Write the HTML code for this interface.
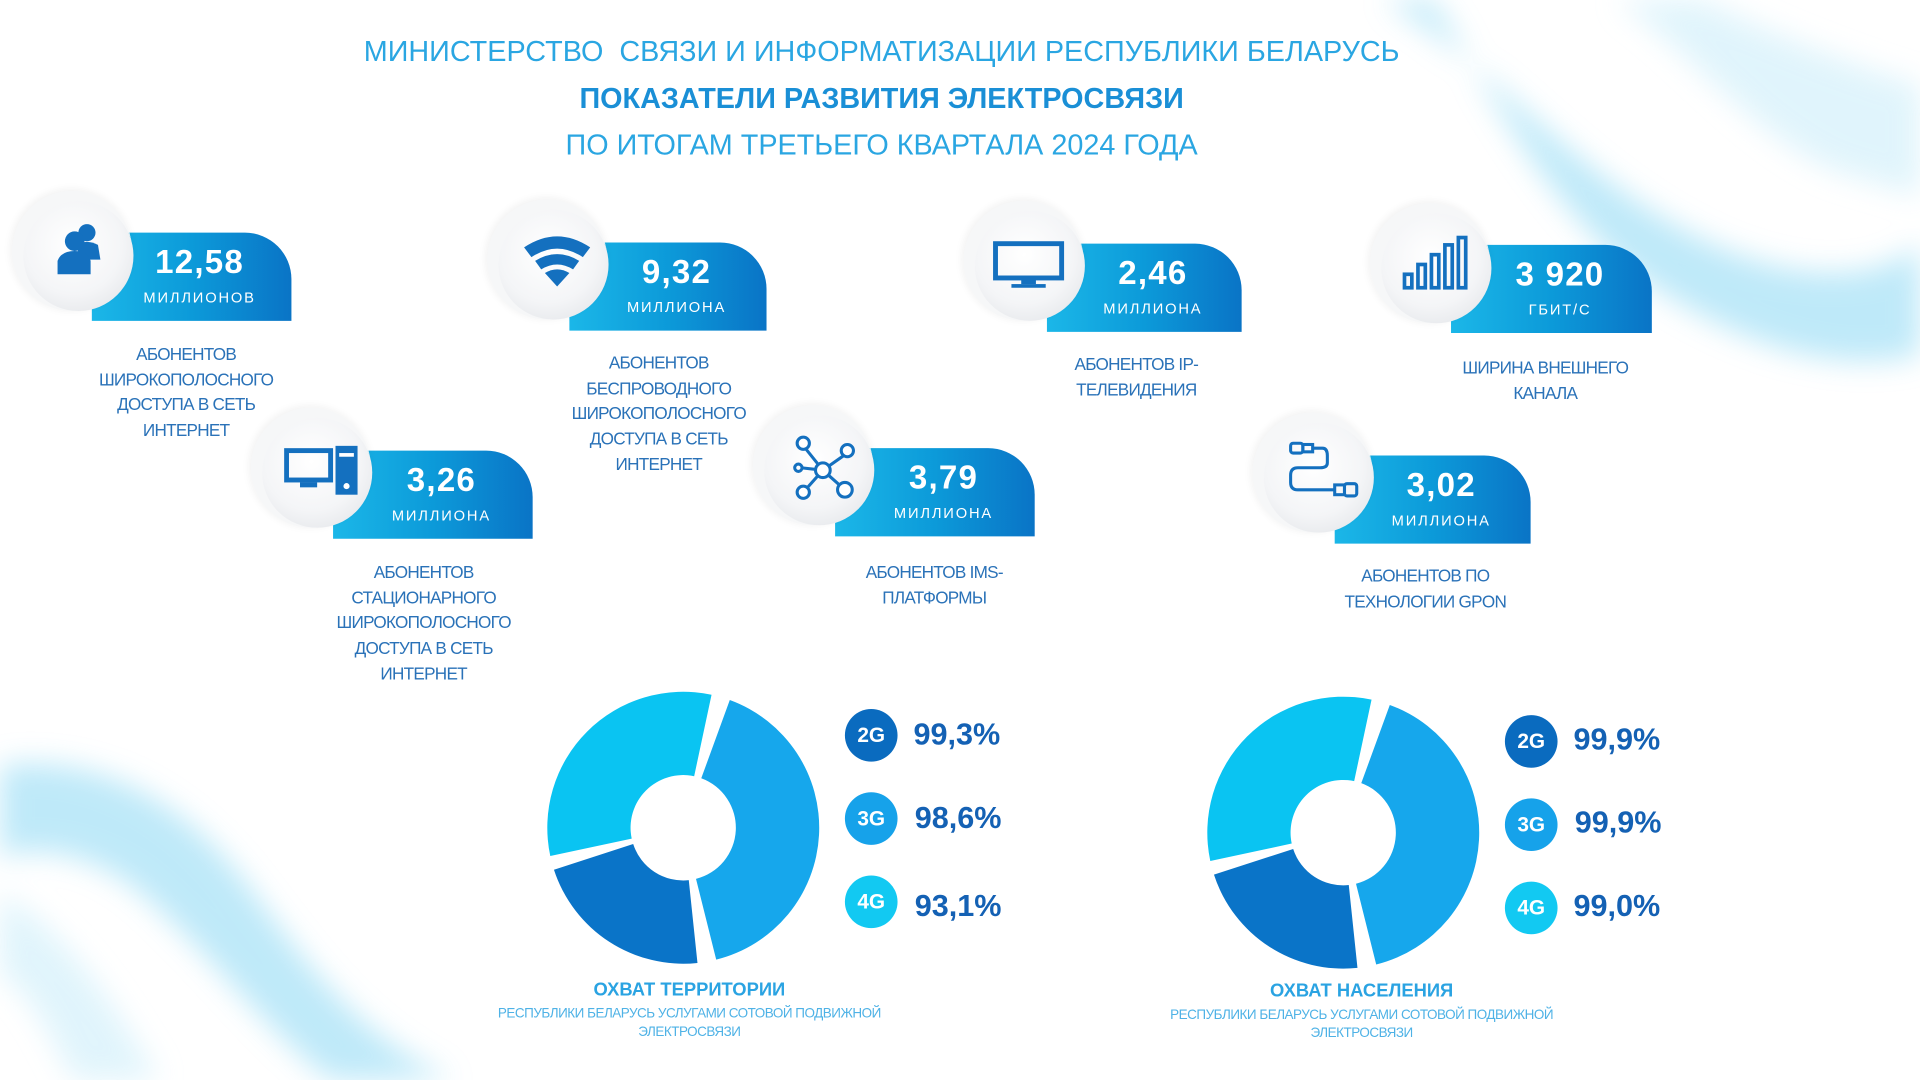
<!DOCTYPE html>
<html><head><meta charset="utf-8">
<style>
html,body{margin:0;padding:0;background:#fff;overflow:hidden;width:1920px;height:1080px}
#st{position:absolute;left:0;top:0;width:1568px;height:882px;transform:scale(1.22449);transform-origin:0 0;font-family:"Liberation Sans","DejaVu Sans",sans-serif}
.t{position:absolute;left:0;width:1440px;text-align:center;white-space:nowrap}
.circ{position:absolute;width:90px;height:90px;border-radius:50%;background:radial-gradient(circle at 45% 40%,#fff 0%,#f4f5f7 55%,#dde0e4 100%);box-shadow:-5px -4px 0 4px #f6f7f8, -6px -5px 6px 5px rgba(0,0,0,0.05);z-index:2}
.pill{position:absolute;height:72px;border-radius:0 38px 0 0;background:linear-gradient(90deg,#1bb7e8 0%,#0c9ad9 50%,#0a74c6 100%);z-index:1;color:#fff;text-align:center}
.pill .n{position:absolute;left:0;right:0;top:9px;font-size:27px;font-weight:bold;letter-spacing:1px}
.pill .u{position:absolute;left:0;right:0;top:46px;font-size:12px;letter-spacing:1.5px}
.lab{position:absolute;text-align:center;color:#2a72b8;font-size:14px;line-height:20.7px;width:200px;letter-spacing:-0.6px}
.icon{position:absolute;z-index:3}
.bd{position:absolute;width:43px;height:43px;border-radius:50%;color:#fff;font-weight:bold;font-size:17px;text-align:center;line-height:43px}
.pc{position:absolute;color:#1461b4;font-weight:bold;font-size:25px}
.cap{position:absolute;width:400px;text-align:center}
</style></head><body>
<div id="st">
<svg width="1568" height="882" style="position:absolute;left:0;top:0">
<defs><filter id="bl"><feGaussianBlur stdDeviation="12"/></filter></defs>
<g filter="url(#bl)" opacity="0.75">
<path d="M1130,0 C1230,60 1290,150 1400,200 C1480,235 1540,225 1568,200 L1568,290 C1500,305 1420,285 1330,220 C1250,150 1210,60 1170,0 Z" fill="#a9e2f7"/>
<path d="M1320,0 C1380,40 1430,110 1500,140 L1568,160 L1568,70 C1500,50 1430,20 1390,0 Z" fill="#d6f1fb"/>
<path d="M0,625 C80,615 150,655 200,720 C250,785 290,845 370,882 L270,882 C210,835 170,775 110,725 C70,695 25,690 0,700 Z" fill="#a9e2f7"/>
<path d="M0,730 C40,750 80,800 110,850 L130,882 L60,882 C40,840 20,805 0,795 Z" fill="#d6f1fb"/>
</g>
</svg>

<div class="t" style="top:29px;font-size:23.5px;color:#2aa6e2">МИНИСТЕРСТВО&nbsp; СВЯЗИ И ИНФОРМАТИЗАЦИИ РЕСПУБЛИКИ БЕЛАРУСЬ</div>
<div class="t" style="top:67px;font-size:23.5px;color:#1a8fd6;font-weight:bold">ПОКАЗАТЕЛИ РАЗВИТИЯ ЭЛЕКТРОСВЯЗИ</div>
<div class="t" style="top:105px;font-size:23.5px;color:#2aa6e2">ПО ИТОГАМ ТРЕТЬЕГО КВАРТАЛА 2024 ГОДА</div>

<div class="pill" style="left:75px;top:190px;width:163px"><div class="n" style="left:13px">12,58</div><div class="u" style="left:13px">МИЛЛИОНОВ</div></div>
<div class="circ" style="left:19px;top:164px"></div>
<svg class="icon" style="left:42px;top:180px" width="48" height="48"><circle cx="29" cy="10" r="7" fill="#1470bf"/><path d="M20,20 Q29,15 38,20 L40,32 L24,32Z" fill="#1470bf"/><circle cx="19" cy="17" r="8" fill="#1470bf"/><path d="M5,44 L5,33 Q8,25 19,25 Q30,25 32,33 L32,44Z" fill="#1470bf"/></svg>
<div class="lab" style="left:52px;top:279px">АБОНЕНТОВ<br>ШИРОКОПОЛОСНОГО<br>ДОСТУПА В СЕТЬ<br>ИНТЕРНЕТ</div>

<div class="pill" style="left:465px;top:198px;width:161px"><div class="n" style="left:14px">9,32</div><div class="u" style="left:14px">МИЛЛИОНА</div></div>
<div class="circ" style="left:407px;top:171px"></div>
<svg class="icon" style="left:425px;top:192px" width="60" height="45"><path d="M3,10 Q30,-8 57,10 L51,18 Q30,4 9,18Z" fill="#1470bf"/><path d="M12,21 Q30,10 48,21 L43,28 Q30,20 17,28Z" fill="#1470bf"/><path d="M20,31 Q30,25 40,31 L30,42Z" fill="#1470bf"/></svg>
<div class="lab" style="left:438px;top:286px">АБОНЕНТОВ<br>БЕСПРОВОДНОГО<br>ШИРОКОПОЛОСНОГО<br>ДОСТУПА В СЕТЬ<br>ИНТЕРНЕТ</div>

<div class="pill" style="left:855px;top:199px;width:159px"><div class="n" style="left:14px">2,46</div><div class="u" style="left:14px">МИЛЛИОНА</div></div>
<div class="circ" style="left:796px;top:172px"></div>
<svg class="icon" style="left:810px;top:196px" width="60" height="42"><rect x="3" y="3" width="54" height="28" fill="none" stroke="#1470bf" stroke-width="4"/><rect x="24" y="32" width="12" height="4" fill="#1470bf"/><rect x="16" y="36" width="28" height="3" fill="#1470bf"/></svg>
<div class="lab" style="left:828px;top:287px">АБОНЕНТОВ IP-<br>ТЕЛЕВИДЕНИЯ</div>

<div class="pill" style="left:1185px;top:200px;width:164px"><div class="n" style="left:14px">3 920</div><div class="u" style="left:14px">ГБИТ/С</div></div>
<div class="circ" style="left:1128px;top:174px"></div>
<svg class="icon" style="left:1145px;top:192px" width="58" height="46"><g fill="none" stroke="#1470bf" stroke-width="3"><rect x="2" y="32" width="6" height="11"/><rect x="13" y="24" width="6" height="19"/><rect x="24" y="16" width="6" height="27"/><rect x="35" y="8" width="6" height="35"/><rect x="46" y="2" width="6" height="41"/></g></svg>
<div class="lab" style="left:1162px;top:290px">ШИРИНА ВНЕШНЕГО<br>КАНАЛА</div>

<div class="pill" style="left:272px;top:368px;width:163px"><div class="n" style="left:14px">3,26</div><div class="u" style="left:14px">МИЛЛИОНА</div></div>
<div class="circ" style="left:214px;top:341px"></div>
<svg class="icon" style="left:232px;top:364px" width="62" height="42"><rect x="2" y="4" width="36" height="24" fill="none" stroke="#1470bf" stroke-width="4"/><rect x="13" y="30" width="14" height="4" fill="#1470bf"/><rect x="42" y="0" width="18" height="40" fill="#1470bf"/><rect x="45" y="6" width="12" height="3" fill="#fff"/><circle cx="51" cy="33" r="2.5" fill="#fff"/></svg>
<div class="lab" style="left:246px;top:457px">АБОНЕНТОВ<br>СТАЦИОНАРНОГО<br>ШИРОКОПОЛОСНОГО<br>ДОСТУПА В СЕТЬ<br>ИНТЕРНЕТ</div>

<div class="pill" style="left:682px;top:366px;width:163px"><div class="n" style="left:14px">3,79</div><div class="u" style="left:14px">МИЛЛИОНА</div></div>
<div class="circ" style="left:624px;top:339px"></div>
<svg class="icon" style="left:646px;top:354px" width="56" height="58"><g fill="none" stroke="#1470bf" stroke-width="2.5"><line x1="10" y1="10" x2="26" y2="30"/><line x1="26" y1="30" x2="46" y2="16"/><line x1="26" y1="30" x2="10" y2="48"/><line x1="26" y1="30" x2="44" y2="46"/><line x1="26" y1="30" x2="8" y2="28"/><circle cx="10" cy="8" r="5" fill="#fff"/><circle cx="46" cy="14" r="5" fill="#fff"/><circle cx="26" cy="30" r="6" fill="#fff"/><circle cx="10" cy="48" r="5" fill="#fff"/><circle cx="44" cy="46" r="6" fill="#fff"/><circle cx="6" cy="28" r="3" fill="#fff"/></g></svg>
<div class="lab" style="left:663px;top:457px">АБОНЕНТОВ IMS-<br>ПЛАТФОРМЫ</div>

<div class="pill" style="left:1090px;top:372px;width:160px"><div class="n" style="left:14px">3,02</div><div class="u" style="left:14px">МИЛЛИОНА</div></div>
<div class="circ" style="left:1032px;top:345px"></div>
<svg class="icon" style="left:1050px;top:358px" width="62" height="56"><g fill="none" stroke="#1470bf" stroke-width="2.5"><rect x="4" y="4" width="10" height="8" rx="2"/><rect x="14" y="5" width="8" height="6"/><path d="M22,8 L30,8 Q34,8 34,14 L34,20 Q34,24 28,24 L10,24 Q4,24 4,30 L4,36 Q4,42 10,42 L40,42"/><rect x="40" y="38" width="8" height="8"/><rect x="48" y="37" width="10" height="10" rx="2"/></g></svg>
<div class="lab" style="left:1064px;top:460px">АБОНЕНТОВ ПО<br>ТЕХНОЛОГИИ GPON</div>

<svg style="position:absolute;left:438px;top:556px" width="240" height="240" viewBox="-120 -120 240 240">
<path d="M-108.6,23.1 A111,111 0 0 1 23.1,-108.6 L8.9,-42.1 A43,43 0 0 0 -42.1,8.9 Z" fill="#0ac4f2"/>
<path d="M38,-104.3 A111,111 0 0 1 26.9,107.7 L10.4,41.7 A43,43 0 0 0 14.7,-40.4 Z" fill="#16a7ec"/>
<path d="M11.6,110.4 A111,111 0 0 1 -105.6,34.3 L-40.9,13.3 A43,43 0 0 0 4.5,42.8 Z" fill="#0a74c8"/>
</svg>
<div class="bd" style="left:690px;top:579px;background:#0a6bbf">2G</div>
<div class="bd" style="left:690px;top:647px;background:#16a2ea">3G</div>
<div class="bd" style="left:690px;top:715px;background:#12c9f2">4G</div>
<div class="pc" style="left:746px;top:586px">99,3%</div>
<div class="pc" style="left:747px;top:654px">98,6%</div>
<div class="pc" style="left:747px;top:726px">93,1%</div>
<div class="cap" style="left:363px;top:800px;font-size:15px;font-weight:bold;color:#2aa3e2">ОХВАТ ТЕРРИТОРИИ</div>
<div class="cap" style="left:363px;top:821px;font-size:11px;line-height:15px;color:#4eb2e6;letter-spacing:-0.4px">РЕСПУБЛИКИ БЕЛАРУСЬ УСЛУГАМИ СОТОВОЙ ПОДВИЖНОЙ<br>ЭЛЕКТРОСВЯЗИ</div>

<svg style="position:absolute;left:977px;top:560px" width="240" height="240" viewBox="-120 -120 240 240">
<path d="M-108.6,23.1 A111,111 0 0 1 23.1,-108.6 L8.9,-42.1 A43,43 0 0 0 -42.1,8.9 Z" fill="#0ac4f2"/>
<path d="M38,-104.3 A111,111 0 0 1 26.9,107.7 L10.4,41.7 A43,43 0 0 0 14.7,-40.4 Z" fill="#16a7ec"/>
<path d="M11.6,110.4 A111,111 0 0 1 -105.6,34.3 L-40.9,13.3 A43,43 0 0 0 4.5,42.8 Z" fill="#0a74c8"/>
</svg>
<div class="bd" style="left:1229px;top:584px;background:#0a6bbf">2G</div>
<div class="bd" style="left:1229px;top:652px;background:#16a2ea">3G</div>
<div class="bd" style="left:1229px;top:720px;background:#12c9f2">4G</div>
<div class="pc" style="left:1285px;top:590px">99,9%</div>
<div class="pc" style="left:1286px;top:658px">99,9%</div>
<div class="pc" style="left:1285px;top:726px">99,0%</div>
<div class="cap" style="left:912px;top:801px;font-size:15px;font-weight:bold;color:#2aa3e2">ОХВАТ НАСЕЛЕНИЯ</div>
<div class="cap" style="left:912px;top:822px;font-size:11px;line-height:15px;color:#4eb2e6;letter-spacing:-0.4px">РЕСПУБЛИКИ БЕЛАРУСЬ УСЛУГАМИ СОТОВОЙ ПОДВИЖНОЙ<br>ЭЛЕКТРОСВЯЗИ</div>
</div>
</body></html>
